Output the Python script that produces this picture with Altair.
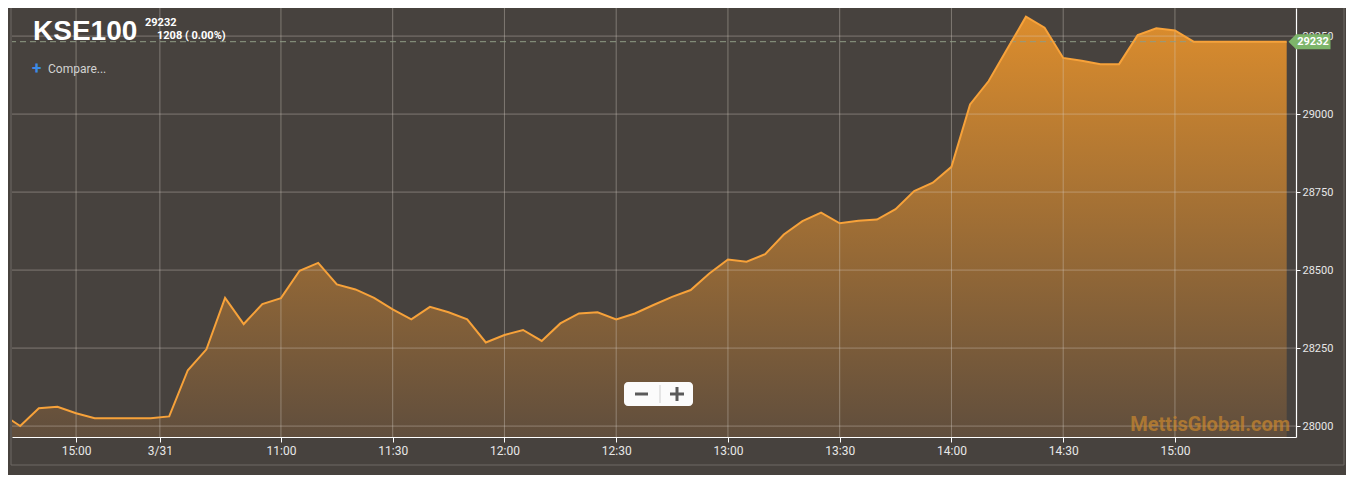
import altair as alt
import pandas as pd

# ---- data -------------------------------------------------------------
steps = list(range(-15, 55))  # 5-minute steps, 0 = 11:00 on 3/31
values = [28040, 28000, 28057, 28062, 28041, 28025, 28025, 28025, 28025, 28031,
          28179, 28246, 28411, 28327, 28391, 28410, 28498, 28523, 28454, 28438,
          28411, 28374, 28342, 28382, 28365, 28342, 28268, 28292, 28308, 28273,
          28329, 28361, 28365, 28342, 28361, 28388, 28414, 28436, 28489, 28534,
          28527, 28551, 28614, 28657, 28684, 28650, 28658, 28662, 28695, 28753,
          28780, 28831, 29031, 29106, 29209, 29312, 29277, 29180, 29171, 29160,
          29160, 29253, 29275, 29268, 29232, 29232, 29232, 29232, 29232, 29232]
x_tick_values = [-11, -6.5, 0, 6, 12, 18, 24, 30, 36, 42, 48]
x_tick_labels = ["15:00", "3/31", "11:00", "11:30", "12:00", "12:30",
                 "13:00", "13:30", "14:00", "14:30", "15:00"]
y_tick_values = [28000, 28250, 28500, 28750, 29000, 29250]
last_value = 29232
title_text = "KSE100"
sub_value = "29232"
sub_change = "1208 ( 0.00%)"

X_DOMAIN = [-14.44, 54.5]
Y_DOMAIN = [27965, 29340]
W, H = 1284, 429
BG = "#47423e"

df = pd.DataFrame({"step": steps, "value": values})
df["base"] = Y_DOMAIN[0]

xscale = alt.Scale(domain=X_DOMAIN, nice=False, zero=False)
yscale = alt.Scale(domain=Y_DOMAIN, nice=False, zero=False)

label_expr = " : ".join(
    f"datum.value == {v} ? '{l}'" for v, l in zip(x_tick_values, x_tick_labels)
) + " : ''"

x_axis = alt.Axis(values=x_tick_values, labelExpr=label_expr, grid=False,
                  domainColor="#ffffff", domainWidth=1.2, tickColor="#ffffff",
                  tickSize=5, labelColor="#e8e8e8", labelFontSize=12,
                  labelFont="Roboto", labelPadding=3, title=None,
                  labelFlush=False, labelOverlap=False)
y_axis = alt.Axis(orient="right", values=y_tick_values, grid=False, format="d",
                  domainColor="#ffffff", domainWidth=1.2, tickColor="#ffffff",
                  tickSize=4, labelColor="#e8e8e8", labelFontSize=11,
                  labelFont="Roboto", labelPadding=2, title=None,
                  labelFlush=False, labelOverlap=False)

gradient = alt.Gradient(
    gradient="linear", x1=0, y1=0, x2=0, y2=1,
    stops=[alt.GradientStop(offset=0, color="#dc8d2d"),
           alt.GradientStop(offset=1, color="#604e3d")],
)

X = lambda f: alt.X(f, scale=xscale, axis=x_axis)
Y = lambda f: alt.Y(f, scale=yscale, axis=y_axis)

base = alt.Chart(df)
area = base.mark_area(clip=True, color=gradient, opacity=1).encode(
    x=X("step:Q"), y=Y("value:Q"), y2="base:Q",
)

vgrid = alt.Chart(pd.DataFrame({"t": x_tick_values})).mark_rule(
    color="#d9d2ca", opacity=0.38, strokeWidth=1
).encode(x=X("t:Q"))

hgrid = alt.Chart(pd.DataFrame({"t": y_tick_values})).mark_rule(
    color="#d9d2ca", opacity=0.38, strokeWidth=1
).encode(y=Y("t:Q"))

last_df = pd.DataFrame({"v": [last_value], "label": [str(last_value)]})
dash = alt.Chart(last_df).mark_rule(
    color="#8f9c86", strokeDash=[6, 4], strokeWidth=1
).encode(y=Y("v:Q"))

line = base.mark_line(clip=True, color="#f7a23a", strokeWidth=2).encode(
    x=X("step:Q"), y=Y("value:Q"),
)

tag_path = "M-1,0L-0.64,-0.357L1,-0.357L1,0.357L-0.64,0.357Z"
tag = alt.Chart(last_df).mark_point(
    shape=tag_path, filled=True, size=1764, color="#7db56a", opacity=1
).encode(x=alt.value(1297.5), y=Y("v:Q"))
tag_text = alt.Chart(last_df).mark_text(
    color="#ffffff", fontSize=11, fontWeight="bold", font="Roboto",
    align="center", baseline="middle"
).encode(x=alt.value(1301), y=Y("v:Q"), text="label:N")

one = pd.DataFrame({"a": [0]})

def txt(text, x, y, size, color, weight="normal", font="Roboto",
        align="left", baseline="alphabetic", opacity=1.0):
    return alt.Chart(one).mark_text(
        text=text, fontSize=size, color=color, fontWeight=weight, font=font,
        align=align, baseline=baseline, opacity=opacity
    ).encode(x=alt.value(x), y=alt.value(y))

title = txt(title_text, 21, 32, 28, "#ffffff", "bold", "Liberation Sans")
sub1 = txt(sub_value, 133, 18, 11, "#ffffff", "bold")
sub2 = txt(sub_change, 145, 31, 11, "#ffffff", "bold")
plus = txt("+", 20, 61, 17, "#3b8ae6", "bold", baseline="middle")
compare = txt("Compare...", 36, 61, 12, "#d2d2d2", baseline="middle")
watermark = txt("MettisGlobal.com", 1278, 417, 20, "#c4842f", "bold",
                align="right", baseline="middle", opacity=0.75)

def rule(x, x2, y, y2, color, width=1.0):
    return alt.Chart(one).mark_rule(color=color, strokeWidth=width).encode(
        x=alt.value(x), x2=alt.value(x2), y=alt.value(y), y2=alt.value(y2))

btn = alt.Chart(one).mark_rect(
    color="#fbfbfb", cornerRadius=4
).encode(x=alt.value(612), x2=alt.value(681), y=alt.value(374), y2=alt.value(398))
btn_sep = rule(648, 648, 377, 395, "#cfcfcf", 1)
minus_bar = rule(623, 636, 386, 386, "#5a5a5a", 3)
plus_h = rule(658, 672, 386, 386, "#5a5a5a", 3)
plus_v = rule(665, 665, 379, 393, "#5a5a5a", 3)

frame_l = rule(-1, -1, -8, 457, "#6e6964", 1)
frame_b = rule(-1, 1332, 457, 457, "#6e6964", 1)
frame_r = rule(1332, 1332, -8, 457, "#6e6964", 1)

chart = alt.layer(
    area, vgrid, hgrid, dash, line, watermark, tag, tag_text,
    title, sub1, sub2, plus, compare,
    btn, btn_sep, minus_bar, plus_h, plus_v,
    frame_l, frame_b, frame_r,
).properties(
    width=W, height=H,
    autosize=alt.AutoSizeParams(type="none"),
    padding={"left": 4, "top": 0, "right": 50, "bottom": 38},
    background=BG,
).configure_view(
    stroke=None, fill=BG
)

chart.save("out.html", embed_options={"renderer": "svg", "actions": False})
